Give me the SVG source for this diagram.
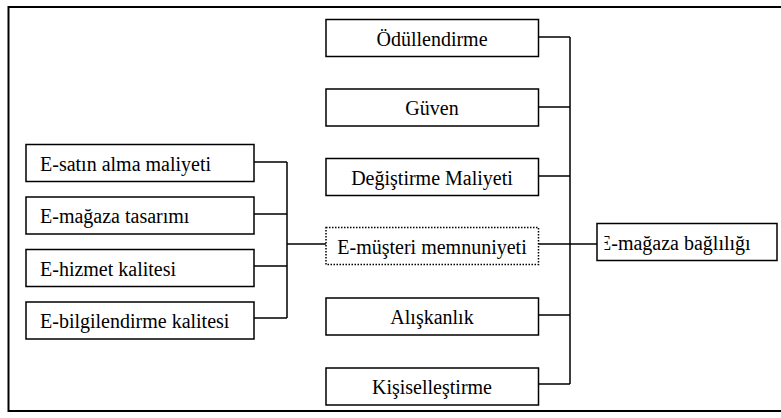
<svg xmlns="http://www.w3.org/2000/svg" width="781" height="418" viewBox="0 0 781 418" font-family="'Liberation Serif', 'Times New Roman', Times, 'DejaVu Serif', serif">
<style>
.box{fill:#fff;stroke:#000;stroke-width:1.5}
.dot{fill:#fff;stroke:#000;stroke-width:1.5;stroke-dasharray:1.5 1.5}
.t{font-size:20px;fill:#000}
.c{text-anchor:middle}
.ln{fill:none;stroke:#000;stroke-width:1.5}
</style>
<defs>
<clipPath id="clipE"><rect x="604.5" y="220" width="180" height="45"/></clipPath>
</defs>
<rect width="781" height="418" fill="#fff"/>
<path d="M790 7 H8.5 V411 H790" fill="none" stroke="#000" stroke-width="2"/>
<g id="connectors">
<path class="ln" d="M254 162 H287 M254 214 H287 M254 266 H287 M254 318 H287 M287 162 V318 M287 244 H326"/>
<path class="ln" d="M538.5 37 H570 M538.5 107 H570 M538.5 176 H570 M538.5 315 H570 M538.5 384 H570 M570 37 V384 M538.5 244 H597"/>
</g>
<g id="n-satin"><rect class="box" x="26" y="144.5" width="228" height="37"/><text class="t" x="40" y="170.5">E-satın alma maliyeti</text></g>
<g id="n-tasarim"><rect class="box" x="26" y="197" width="228" height="37"/><text class="t" x="40" y="223">E-mağaza tasarımı</text></g>
<g id="n-hizmet"><rect class="box" x="26" y="249.5" width="228" height="37"/><text class="t" x="40" y="275.5">E-hizmet kalitesi</text></g>
<g id="n-bilgi"><rect class="box" x="26" y="302" width="228" height="37"/><text class="t" x="40" y="328">E-bilgilendirme kalitesi</text></g>
<g id="n-odul"><rect class="box" x="326" y="19.5" width="212.5" height="37"/><text class="t c" x="432" y="45.5">Ödüllendirme</text></g>
<g id="n-guven"><rect class="box" x="326" y="89" width="212.5" height="37"/><text class="t c" x="432" y="115">Güven</text></g>
<g id="n-degis"><rect class="box" x="326" y="158.5" width="212.5" height="37"/><text class="t c" x="432" y="184.5">Değiştirme Maliyeti</text></g>
<g id="n-memnun"><rect class="dot" x="326" y="227.5" width="212.5" height="37"/><text class="t c" x="432" y="253.5">E-müşteri memnuniyeti</text></g>
<g id="n-alisk"><rect class="box" x="326" y="298" width="212.5" height="37"/><text class="t c" x="432" y="324">Alışkanlık</text></g>
<g id="n-kisi"><rect class="box" x="326" y="368" width="212.5" height="37"/><text class="t c" x="432" y="394">Kişiselleştirme</text></g>
<g id="n-bagli"><rect class="box" x="597" y="223.5" width="180" height="37"/><text class="t" x="599" y="250" clip-path="url(#clipE)">E-mağaza bağlılığı</text></g>
</svg>
